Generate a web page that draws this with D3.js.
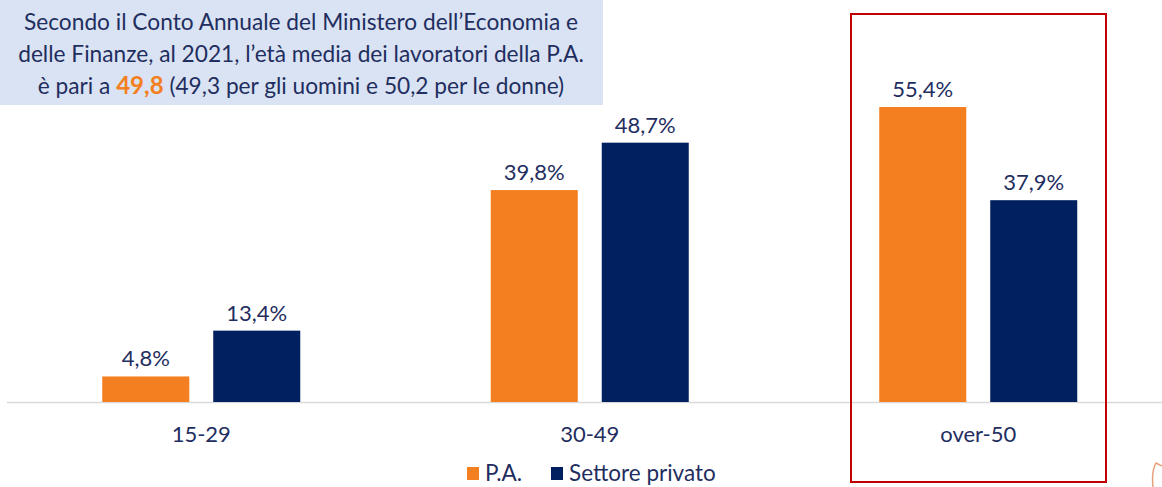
<!DOCTYPE html>
<html><head><meta charset="utf-8">
<script src="https://cdn.jsdelivr.net/npm/d3@7"></script>
<style>body{margin:0;background:#fff}svg{display:block}</style>
</head><body>
<svg id="c" width="1162" height="487"></svg>
<script>
const categories = ["15-29", "30-49", "over-50"];
const seriesNames = ["P.A.", "Settore privato"];
const paValues = [4.8, 39.8, 55.4];
const privateValues = [13.4, 48.7, 37.9];
const seriesColors = ["#F47F20", "#002060"];
const textColor = "#1F2E5F";
const FONT = "Lato, 'Open Sans', sans-serif";

const svg = d3.select("#c");
const baseY = 402;
const x0 = d3.scaleBand().domain(categories).range([7, 1172.5]).paddingInner(0);
const x1 = d3.scaleBand().domain(seriesNames).range([-99, 99]).paddingInner(0.216);
const y = d3.scaleLinear().domain([0, 55.4]).range([baseY, 107]);

const data = categories.map((c, i) => ({cat: c, vals: [paValues[i], privateValues[i]]}));

// info box
svg.append("rect").attr("x", 0).attr("y", 0).attr("width", 603).attr("height", 105).attr("fill", "#DAE3F3");
const lines = [
  [{t: "Secondo il Conto Annuale del Ministero dell\u2019Economia e"}],
  [{t: "delle Finanze, al 2021, l\u2019et\u00e0 media dei lavoratori della P.A."}],
  [{t: "\u00e8 pari a "}, {t: "49,8", b: true}, {t: " (49,3 per gli uomini e 50,2 per le donne)"}]
];
lines.forEach((ln, i) => {
  const t = svg.append("text").attr("x", 301).attr("y", 30 + i * 32)
    .attr("text-anchor", "middle").attr("font-family", FONT).attr("font-size", 22.7).attr("fill", textColor);
  ln.forEach(s => {
    const sp = t.append("tspan").text(s.t);
    if (s.b) sp.attr("font-weight", "bold").attr("font-size", 24).attr("fill", "#F47F20");
  });
});

// baseline
svg.append("line").attr("x1", 7).attr("x2", 1162).attr("y1", baseY + 0.5).attr("y2", baseY + 0.5)
  .attr("stroke", "#D9D9D9").attr("stroke-width", 1.5);

const g = svg.selectAll("g.cat").data(data).join("g").attr("class", "cat")
  .attr("transform", d => `translate(${x0(d.cat) + x0.bandwidth() / 2},0)`);

g.selectAll("rect").data(d => d.vals.map((v, j) => ({v, s: seriesNames[j], j}))).join("rect")
  .attr("x", d => x1(d.s)).attr("width", x1.bandwidth())
  .attr("y", d => y(d.v)).attr("height", d => baseY - y(d.v))
  .attr("fill", d => seriesColors[d.j]);

g.selectAll("text.val").data(d => d.vals.map((v, j) => ({v, s: seriesNames[j], j}))).join("text")
  .attr("class", "val")
  .attr("x", d => x1(d.s) + x1.bandwidth() / 2).attr("y", d => y(d.v) - 10)
  .attr("text-anchor", "middle").attr("font-family", FONT).attr("font-size", 22).attr("fill", textColor)
  .text(d => d3.format(".1f")(d.v).replace(".", ",") + "%");

// category axis labels
const ax = svg.append("g").attr("transform", `translate(0,${baseY})`)
  .call(d3.axisBottom(x0).tickSize(0).tickPadding(24));
ax.select(".domain").remove();
ax.selectAll("text").attr("font-family", FONT).attr("font-size", 22).attr("fill", textColor).attr("dy", "0.71em");

// legend
const legend = svg.append("g");
const legX = [467, 551];
seriesNames.forEach((s, j) => {
  legend.append("rect").attr("x", legX[j]).attr("y", 467).attr("width", 12).attr("height", 13).attr("fill", seriesColors[j]);
  legend.append("text").attr("x", legX[j] + 18).attr("y", 481).attr("font-family", FONT).attr("font-size", 22.5)
    .attr("fill", textColor).text(s);
});

// highlight box
svg.append("rect").attr("x", 851).attr("y", 14).attr("width", 255).attr("height", 468)
  .attr("fill", "none").attr("stroke", "#C00000").attr("stroke-width", 2);

// partial arrow decoration at right edge
svg.append("path").attr("d", "M1153,487 C1152,478 1152,470 1156,463 L1162,466")
  .attr("fill", "none").attr("stroke", "#E8A07A").attr("stroke-width", 1.5);
</script>
</body></html>
